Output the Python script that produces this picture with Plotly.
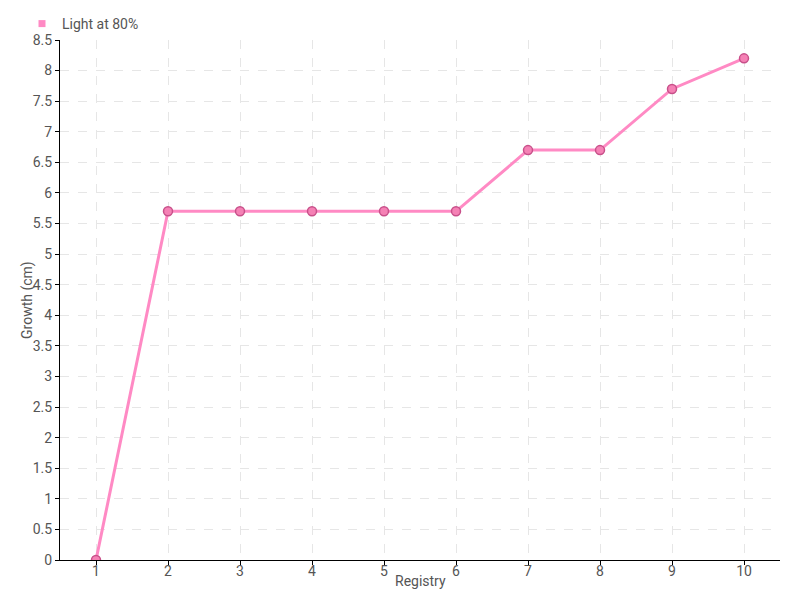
import plotly.graph_objects as go

registry = [1, 2, 3, 4, 5, 6, 7, 8, 9, 10]
growth = [0, 5.7, 5.7, 5.7, 5.7, 5.7, 6.7, 6.7, 7.7, 8.2]
series_name = "Light at 80%"

font = "Roboto, sans-serif"

fig = go.Figure()
fig.add_trace(go.Scatter(
    x=registry, y=growth, mode="lines+markers", name=series_name,
    line=dict(color="#ff8ac4", width=3),
    marker=dict(size=9, color="#f581b5", line=dict(color="#c8508a", width=1.5)),
    showlegend=False,
))
# legend entry drawn as a small square, like the original
fig.add_trace(go.Scatter(
    x=[None], y=[None], mode="markers", name=series_name,
    marker=dict(symbol="square", size=7, color="#ff8ac4"),
))

axis = dict(
    showline=True, linecolor="black", linewidth=1,
    ticks="outside", ticklen=4, tickcolor="black",
    showgrid=True, gridcolor="#e6e6e6", griddash="dash", gridwidth=1,
    zeroline=False, tickfont=dict(size=14, color="#555555"),
    automargin=False,
)

# page is drawn with an 8px body offset, margins compensate for it
fig.update_layout(
    width=800, height=600,
    paper_bgcolor="white", plot_bgcolor="white",
    font=dict(family=font, color="#555555", size=14),
    margin=dict(l=52, r=28, t=32, b=48),
    showlegend=True,
    legend=dict(xref="container", yref="container", x=0.0175, y=1.0,
                xanchor="left", yanchor="top", orientation="h",
                bgcolor="rgba(0,0,0,0)",
                font=dict(size=14, color="#555555"),
                itemwidth=30, tracegroupgap=0),
    xaxis=dict(axis, range=[0.5, 10.5], tickmode="array", tickvals=registry,
               ticklabelstandoff=-6),
    yaxis=dict(axis, range=[0, 8.5], dtick=0.5),
    annotations=[
        dict(text="Registry", xref="paper", yref="paper", x=0.5, y=0,
             yshift=-21, yanchor="middle", showarrow=False, font=dict(size=14)),
        dict(text="Growth (cm)", xref="paper", yref="paper", x=0, y=0.5,
             xshift=-33, xanchor="center", textangle=-90, showarrow=False,
             font=dict(size=14)),
    ],
)

fig.write_html("out.html")
